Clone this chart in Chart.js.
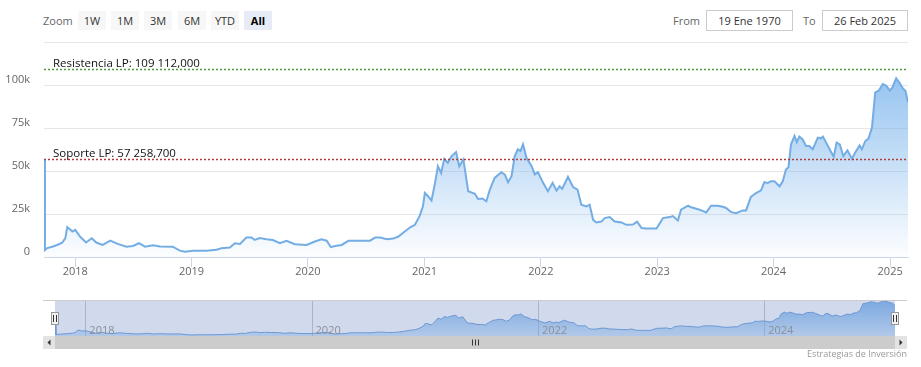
<!DOCTYPE html>
<html><head><meta charset="utf-8">
<script src="https://cdn.jsdelivr.net/npm/chart.js@4"></script>
<style>
body{margin:0;background:#fff;font-family:"Open Sans",sans-serif;}
#wrap{position:relative;width:921px;height:367px;overflow:hidden;background:#fff}
#wrap canvas{position:absolute;left:0}
.t{position:absolute;font-size:11px;color:#666;line-height:19px;top:11px}
.btn{position:absolute;top:11px;height:19px;width:28px;background:#f7f7f7;color:#333;font-size:11px;line-height:19px;text-align:center}
.sel{background:#e6ebf5;font-weight:bold;color:#000}
.inp{position:absolute;top:10px;height:19px;border:1px solid #ccc;font-size:11px;line-height:19px;text-align:center;color:#333;background:#fff}
#credit{position:absolute;right:14px;top:347px;font-size:9px;color:#999}
</style></head>
<body>
<div id="wrap">
  <div class="t" style="left:43px">Zoom</div>
  <div class="btn" style="left:78px">1W</div>
  <div class="btn" style="left:111px">1M</div>
  <div class="btn" style="left:144px">3M</div>
  <div class="btn" style="left:178px">6M</div>
  <div class="btn" style="left:211px">YTD</div>
  <div class="btn sel" style="left:244px">All</div>
  <div class="t" style="left:673px">From</div>
  <div class="inp" style="left:706px;width:85px">19 Ene 1970</div>
  <div class="t" style="left:803px">To</div>
  <div class="inp" style="left:822px;width:84px">26 Feb 2025</div>
  <canvas id="main" width="921" height="290" style="top:0"></canvas>
  <canvas id="nav" width="921" height="77" style="top:290px"></canvas>
  <div id="credit">Estrategias de Inversión</div>
</div>
<script>
const dates = ["2017-09-25","2017-09-28","2017-10-05","2017-10-21","2017-11-05","2017-11-21","2017-12-01","2017-12-07","2017-12-16","2017-12-23",
"2018-01-01","2018-01-16","2018-02-04","2018-02-22","2018-03-08","2018-03-28","2018-04-21","2018-05-14","2018-06-11","2018-07-01","2018-07-20","2018-08-08","2018-09-02","2018-09-24","2018-11-03","2018-11-25","2018-12-11",
"2019-01-05","2019-02-17","2019-03-20","2019-04-05","2019-05-01","2019-05-17","2019-06-02","2019-06-22","2019-07-08","2019-07-18","2019-08-03","2019-08-24","2019-09-13","2019-10-05","2019-10-26","2019-11-21","2019-12-28",
"2020-01-23","2020-02-13","2020-02-29","2020-03-13","2020-03-26","2020-04-16","2020-05-07","2020-06-13","2020-07-14","2020-07-30","2020-08-15","2020-09-05","2020-09-25","2020-10-11","2020-10-27","2020-11-17","2020-12-02","2020-12-16","2020-12-27",
"2021-01-02","2021-01-12","2021-01-23","2021-02-03","2021-02-12","2021-02-22","2021-03-04","2021-03-15","2021-03-27","2021-04-10","2021-04-20","2021-05-03","2021-05-18","2021-06-08","2021-06-18","2021-07-02","2021-07-14","2021-07-25","2021-08-09","2021-08-30","2021-09-10","2021-09-20","2021-10-01","2021-10-11","2021-10-21","2021-10-29","2021-11-06","2021-11-17","2021-12-03","2021-12-13","2021-12-23",
"2022-01-08","2022-01-23","2022-02-07","2022-02-19","2022-03-01","2022-03-09","2022-03-27","2022-04-12","2022-04-26","2022-05-08","2022-05-24","2022-06-03","2022-06-14","2022-06-24","2022-07-10","2022-07-20","2022-08-05","2022-08-21","2022-09-11","2022-09-26","2022-10-17","2022-10-30","2022-11-13","2022-11-28","2022-12-30",
"2023-01-19","2023-02-09","2023-02-19","2023-03-07","2023-03-17","2023-04-08","2023-04-18","2023-05-14","2023-06-04","2023-06-19","2023-07-10","2023-07-26","2023-08-05","2023-08-21","2023-09-06","2023-09-26","2023-10-07","2023-10-22","2023-11-07","2023-11-23","2023-12-03","2023-12-14","2023-12-24",
"2024-01-04","2024-01-20","2024-01-30","2024-02-09","2024-02-17","2024-02-25","2024-03-07","2024-03-14","2024-03-22","2024-04-01","2024-04-12","2024-04-22","2024-05-03","2024-05-19","2024-05-29","2024-06-04","2024-06-15","2024-06-28","2024-07-08","2024-07-17","2024-07-27","2024-08-07","2024-08-20","2024-09-03","2024-09-13","2024-09-27","2024-10-04","2024-10-15","2024-10-25","2024-11-05","2024-11-15","2024-11-26","2024-12-09","2024-12-20","2024-12-31",
"2025-01-08","2025-01-20","2025-01-31","2025-02-10","2025-02-18","2025-02-26"];
const prices = [57000,4000,5200,6000,7000,8300,11000,17400,16000,14800,
15800,11900,8400,10900,8400,7000,9500,7600,6000,6400,8000,6000,6800,6100,6000,3700,3100,
3700,3700,4200,5100,5500,8000,7600,11300,11300,9900,11000,10300,9900,8000,9400,7400,7000,
9000,10300,9500,5700,6400,7000,9400,9500,9500,11300,11300,10300,10700,11900,14200,17300,18700,23600,29400,
37200,35300,32900,43100,52800,48900,57100,54800,58700,61000,52800,56700,38200,36800,33700,34000,32300,39200,46000,49300,47900,43500,47000,58700,62600,61600,65500,57700,52800,48000,49300,
43100,38200,43100,38600,41100,39600,46600,40700,39200,30400,29400,30400,21600,20100,20600,22600,23200,20600,20100,18700,18900,20600,16800,16600,16600,
22600,23200,23800,21200,27500,29800,28900,27500,25900,29800,29800,29200,28500,26100,25500,27100,27100,34900,37200,38800,43500,43000,44000,
44000,41100,44000,50900,52200,65500,70400,66800,70000,68500,64500,64500,62600,69400,69000,70000,66200,61600,58300,66500,65500,58700,62000,57100,60600,64900,62600,67400,68800,75300,95700,96700,100600,99500,96700,
98600,103900,101200,98000,96700,89900];
const yTicks = [0,25000,50000,75000,100000,125000];
const yearTicks = [2018,2019,2020,2021,2022,2023,2024,2025];
const navYearTicks = [2018,2020,2022,2024];
const resistanceLP = 109112;
const supportLP = 57258.7;
const plotLines = [
  {label:"Resistencia LP", value:resistanceLP, color:"#4f9a3f"},
  {label:"Soporte LP", value:supportLP, color:"#a8403c"}
];

const FONT = '"Open Sans", sans-serif';
const points = dates.map((d,i)=>({x:Date.parse(d), y:prices[i]}));
const xMin = points[0].x, xMax = points[points.length-1].x;
const yearTs = y => Date.UTC(y,0,1);

function fmt(v){
  const s = v.toFixed(3).split('.');
  return s[0].replace(/\B(?=(\d{3})+(?!\d))/g,' ') + ',' + s[1];
}

const plotLinePlugin = {
  id:'plotLines',
  afterDatasetsDraw(chart){
    const {ctx, chartArea:a, scales:{y}} = chart;
    ctx.save();
    plotLines.forEach(p=>{
      const py = Math.round(y.getPixelForValue(p.value))+0.5;
      ctx.strokeStyle = p.color; ctx.lineWidth = 1.5; ctx.setLineDash([2,2]);
      ctx.beginPath(); ctx.moveTo(a.left,py); ctx.lineTo(a.right,py); ctx.stroke();
      ctx.setLineDash([]);
      ctx.fillStyle = '#111'; ctx.font = '11.5px '+FONT; ctx.textBaseline='alphabetic';
      ctx.fillText(p.label+': '+fmt(p.value), a.left+9, py-3);
    });
    ctx.restore();
  }
};

const areaGrad = (c, top, bot) => {
  const ch = c.chart, a = ch.chartArea;
  if(!a) return 'rgba(124,181,236,0.4)';
  const g = ch.ctx.createLinearGradient(0,a.top,0,a.bottom);
  g.addColorStop(0,'rgba(124,181,236,'+top+')');
  g.addColorStop(1,'rgba(124,181,236,'+bot+')');
  return g;
};

new Chart(document.getElementById('main'), {
  type:'line',
  data:{datasets:[{data:points, borderColor:'#74ade4', borderWidth:2, pointRadius:0, tension:0,
    fill:'origin', backgroundColor:c=>areaGrad(c,0.95,0.02)}]},
  options:{
    responsive:false, animation:false, events:[],
    layout:{padding:{top:42,left:0,right:13,bottom:3}},
    plugins:{legend:{display:false}, tooltip:{enabled:false}},
    scales:{
      x:{type:'linear', min:xMin, max:xMax,
        afterBuildTicks:s=>{s.ticks = yearTicks.map(y=>({value:yearTs(y)}));},
        afterFit:s=>{s.height=30;},
        ticks:{callback:v=>String(new Date(v).getUTCFullYear()), autoSkip:false, maxRotation:0, padding:-2, color:'#666', font:{family:FONT,size:11}},
        grid:{drawOnChartArea:false, drawTicks:true, tickLength:10, color:'#ccd6eb'},
        border:{display:true, color:'#ccd6eb', width:1}
      },
      y:{min:0, max:125000,
        afterBuildTicks:s=>{s.ticks = yTicks.map(v=>({value:v}));},
        afterFit:s=>{s.width=44;},
        ticks:{callback:v=>v===125000?'':(v===0?'0':(v/1000)+'k'), padding:14, labelOffset:-5, color:'#666', font:{family:FONT,size:11}},
        grid:{color:'#e6e6e6', drawTicks:false},
        border:{display:false}
      }
    }
  },
  plugins:[plotLinePlugin]
});

const navPlugin = {
  id:'navDecor',
  beforeDatasetsDraw(chart){
    const {ctx, chartArea:a, scales:{x}} = chart;
    ctx.save();
    ctx.strokeStyle = '#c4c8d0'; ctx.lineWidth = 1;
    navYearTicks.forEach(y=>{
      const px = Math.round(x.getPixelForValue(yearTs(y)))+0.5;
      ctx.beginPath(); ctx.moveTo(px,a.top); ctx.lineTo(px,a.bottom); ctx.stroke();
    });
    ctx.restore();
  },
  afterDatasetsDraw(chart){
    const {ctx, chartArea:a, scales:{x}} = chart;
    ctx.save();
    ctx.fillStyle = 'rgba(102,133,194,0.3)';
    ctx.fillRect(a.left, a.top, a.right-a.left, a.bottom-a.top);
    ctx.strokeStyle = '#cccccc'; ctx.lineWidth = 1;
    ctx.beginPath(); ctx.moveTo(a.left-12, a.top+0.5); ctx.lineTo(a.right+12, a.top+0.5); ctx.stroke();
    ctx.fillStyle = '#8a8f99'; ctx.font = '11px '+FONT; ctx.textBaseline='alphabetic';
    navYearTicks.forEach(y=>{
      const px = x.getPixelForValue(yearTs(y));
      ctx.fillText(String(y), px+4, a.bottom-2);
    });
    const hy = a.top + (a.bottom-a.top)/2 - 6;
    [a.left, a.right].forEach(hx=>{
      ctx.fillStyle = '#f2f2f2'; ctx.strokeStyle = '#999';
      ctx.fillRect(Math.round(hx)-3.5, Math.round(hy)+0.5, 7, 12);
      ctx.strokeRect(Math.round(hx)-3.5, Math.round(hy)+0.5, 7, 12);
      ctx.strokeStyle = '#333';
      ctx.beginPath();
      ctx.moveTo(Math.round(hx)-1.5, hy+3); ctx.lineTo(Math.round(hx)-1.5, hy+10);
      ctx.moveTo(Math.round(hx)+1.5, hy+3); ctx.lineTo(Math.round(hx)+1.5, hy+10);
      ctx.stroke();
    });
    const sTop = Math.round(a.bottom), sH = 13;
    const l = Math.round(a.left)-12, r = Math.round(a.right)+12;
    ctx.fillStyle = '#f2f2f2'; ctx.fillRect(l, sTop, r-l, sH);
    ctx.fillStyle = '#cccccc'; ctx.fillRect(Math.round(a.left), sTop, Math.round(a.right-a.left), sH);
    ctx.fillStyle = '#e3e3e3';
    ctx.fillRect(l, sTop, 12, sH); ctx.fillRect(r-12, sTop, 12, sH);
    ctx.fillStyle = '#333';
    const cy = sTop + sH/2;
    ctx.beginPath(); ctx.moveTo(l+4.5, cy); ctx.lineTo(l+7.5, cy-3); ctx.lineTo(l+7.5, cy+3); ctx.closePath(); ctx.fill();
    ctx.beginPath(); ctx.moveTo(r-4.5, cy); ctx.lineTo(r-7.5, cy-3); ctx.lineTo(r-7.5, cy+3); ctx.closePath(); ctx.fill();
    const gx = Math.round((a.left+a.right)/2);
    ctx.strokeStyle = '#333'; ctx.lineWidth = 1;
    ctx.beginPath();
    [-3,0,3].forEach(d=>{ctx.moveTo(gx+d+0.5, cy-3); ctx.lineTo(gx+d+0.5, cy+3);});
    ctx.stroke();
    ctx.restore();
  }
};

new Chart(document.getElementById('nav'), {
  type:'line',
  data:{datasets:[{data:points, borderColor:'#6fa0d8', borderWidth:1, pointRadius:0, tension:0,
    fill:'origin', backgroundColor:c=>areaGrad(c,0.95,0.35)}]},
  options:{
    responsive:false, animation:false, events:[],
    layout:{padding:{top:10,left:55,right:26,bottom:31}},
    plugins:{legend:{display:false}, tooltip:{enabled:false}},
    scales:{
      x:{type:'linear', display:false, min:xMin, max:xMax},
      y:{display:false, min:0, max:106000}
    }
  },
  plugins:[navPlugin]
});
</script>
</body></html>
